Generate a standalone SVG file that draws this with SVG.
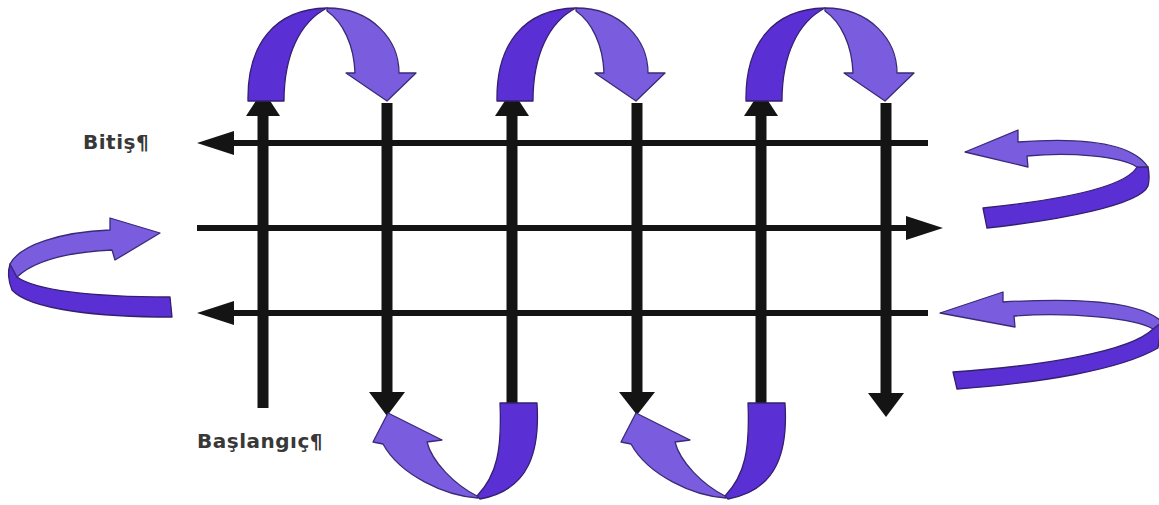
<svg xmlns="http://www.w3.org/2000/svg" width="1159" height="505" viewBox="0 0 1159 505">
<defs>
<style>
.hl{stroke:#141414;stroke-width:6;fill:none}
.vl{stroke:#141414;stroke-width:11;fill:none}
.ah{fill:#141414}
.dk{fill:#5a2fd3;stroke:#352070;stroke-width:1.3;stroke-linejoin:round}
.lt{fill:#7a5ddf;stroke:#3a2a78;stroke-width:1.3;stroke-linejoin:round}
.lbl{font-family:"DejaVu Sans",Verdana,sans-serif;font-weight:bold;font-size:20px;letter-spacing:0.5px;fill:#383838}
</style>
<g id="archTop">
<path class="dk" d="M248,101 C247,45 274,9 327,8 C300,22 284,55 284,101 Z"/>
<path class="lt" d="M327,8 C372,8 399,40 399,73 L416,73 L387,101 L346,73 L355,73 C354,45 343,22 327,11 Z"/>
</g>
<g id="archBot">
<path class="dk" d="M500,403 L537,403 C540,450 530,490 480,499 L477,496 C497,475 502,450 500,403 Z"/>
<path class="lt" d="M478,498 C445,496 400,475 383,444 L373,442 L388,413 L442,440 L427,442 C432,462 455,485 477,496 Z"/>
</g>
</defs>
<rect width="1159" height="505" fill="#ffffff"/>
<g id="connectors">
<line class="hl" x1="230" y1="143" x2="928" y2="143"/>
<polygon class="ah" points="197,143 234,131 234,155"/>
<line class="hl" x1="197" y1="228" x2="910" y2="228"/>
<polygon class="ah" points="943,228 906,216 906,240"/>
<line class="hl" x1="230" y1="313" x2="928" y2="313"/>
<polygon class="ah" points="197,313 234,301 234,325"/>
<line class="vl" x1="263" y1="112" x2="263" y2="408"/>
<polygon class="ah" points="263,90 246,116 280,116"/>
<line class="vl" x1="387" y1="103" x2="387" y2="395"/>
<polygon class="ah" points="387,416 369,392 405,392"/>
<line class="vl" x1="512" y1="112" x2="512" y2="403"/>
<polygon class="ah" points="512,90 495,116 529,116"/>
<line class="vl" x1="637" y1="103" x2="637" y2="395"/>
<polygon class="ah" points="637,415 619,392 655,392"/>
<line class="vl" x1="761" y1="112" x2="761" y2="403"/>
<polygon class="ah" points="761,90 744,116 778,116"/>
<line class="vl" x1="886" y1="103" x2="886" y2="395"/>
<polygon class="ah" points="886,417 868,393 904,393"/>
</g>
<g id="top-arc-1"><use href="#archTop"/></g>
<g id="top-arc-2"><use href="#archTop" transform="translate(249,0)"/></g>
<g id="top-arc-3"><use href="#archTop" transform="translate(498,0)"/></g>
<g id="bottom-arc-1"><use href="#archBot"/></g>
<g id="bottom-arc-2"><use href="#archBot" transform="translate(248,0)"/></g>
<g id="left-arrow">
<path class="dk" d="M17,277 C35,290 90,297 170,297 L172,317 C100,317 30,310 12,290 C8,280 8,270 10,264 Z"/>
<path class="lt" d="M10,264 C20,245 60,232 110,230 L110,218 L160,233 L115,260 L112,250 C70,252 35,260 17,277 Z"/>
</g>
<g id="right-arrow-1">
<path class="dk" d="M1137,167 C1125,188 1060,200 983,208 L987,228 C1060,220 1140,205 1148,186 C1150,178 1149,172 1148,167 Z"/>
<path class="lt" d="M1018,142 C1070,138 1130,140 1148,167 L1137,167 C1120,156 1070,152 1027,156 L1028,167 L965,152 L1018,130 Z"/>
</g>
<g id="right-arrow-2">
<path class="dk" d="M1153,329 C1130,352 1040,366 953,372 L957,389 C1040,383 1120,370 1158,348 L1162,322 Z"/>
<path class="lt" d="M1003,302 C1070,298 1140,300 1162,322 L1153,329 C1135,318 1070,312 1014,316 L1015,327 L940,313 L1003,292 Z"/>
</g>
<g id="label-bitis"><text class="lbl" x="83" y="149">Bitiş¶</text></g>
<g id="label-baslangic"><text class="lbl" x="197" y="448">Başlangıç¶</text></g>
</svg>
